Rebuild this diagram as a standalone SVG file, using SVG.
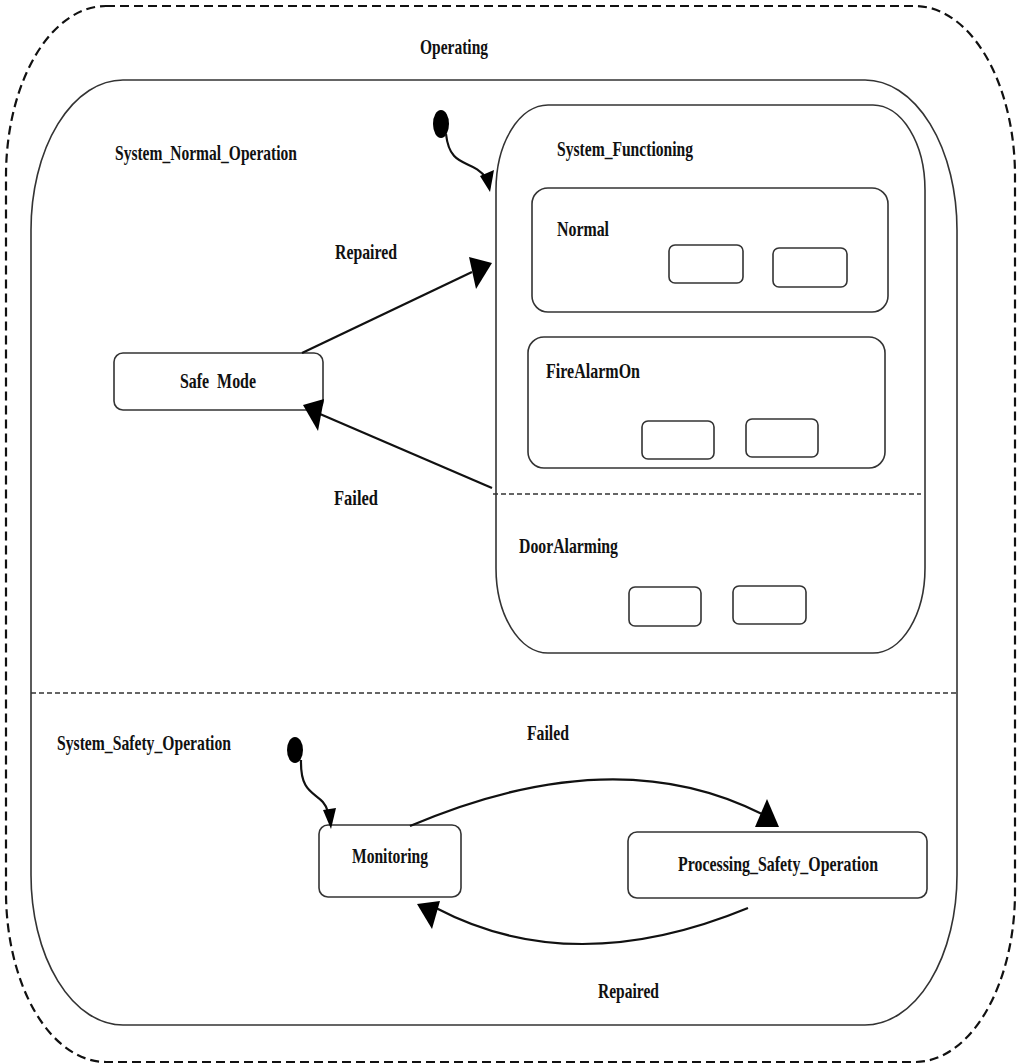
<svg xmlns="http://www.w3.org/2000/svg" width="1017" height="1064" viewBox="0 0 1017 1064">
  <style>
    .lbl { font-family: "Liberation Serif", "Times New Roman", serif; font-weight: bold; font-size: 22px; fill: #111; white-space: pre; }
    .state { fill: #fff; stroke: #333; stroke-width: 1.6; }
    .sub { fill: #fff; stroke: #333; stroke-width: 1.6; }
    .edge { fill: none; stroke: #111; stroke-width: 2.2; }
    .head { fill: #000; stroke: none; }
    .sep { stroke: #333; stroke-width: 1.6; stroke-dasharray: 5 3; fill: none; }
  </style>
  <rect width="1017" height="1064" fill="#fff"/>

  <!-- Operating: outer composite state -->
  <g id="operating">
    <rect x="6" y="6" width="1009" height="1056" rx="100" ry="170" fill="none" stroke="#111" stroke-width="2.2" stroke-dasharray="9 5"/>
    <text class="lbl" x="420" y="54" textLength="68" lengthAdjust="spacingAndGlyphs">Operating</text>
  </g>

  <!-- Orthogonal region container -->
  <g id="regions">
    <rect class="state" x="31" y="80" width="926" height="945" rx="92" ry="150"/>
    <line class="sep" x1="31" y1="693" x2="957" y2="693"/>
  </g>

  <g id="system_normal_operation">
    <text class="lbl" x="115" y="160" textLength="182" lengthAdjust="spacingAndGlyphs">System_Normal_Operation</text>
  </g>

  <g id="system_functioning">
    <rect class="state" x="496" y="105" width="429" height="548" rx="52" ry="85"/>
    <line class="sep" x1="493" y1="494" x2="921" y2="494"/>
    <text class="lbl" x="557" y="156" textLength="136" lengthAdjust="spacingAndGlyphs">System_Functioning</text>
  </g>

  <g id="normal">
    <rect class="state" x="532" y="188" width="356" height="124" rx="16" ry="16"/>
    <text class="lbl" x="557" y="236" textLength="52" lengthAdjust="spacingAndGlyphs">Normal</text>
    <rect class="sub" x="669" y="245" width="74" height="38" rx="6"/>
    <rect class="sub" x="773" y="248" width="74" height="39" rx="6"/>
  </g>

  <g id="fire_alarm_on">
    <rect class="state" x="528" y="337" width="357" height="131" rx="16" ry="16"/>
    <text class="lbl" x="546" y="378" textLength="94" lengthAdjust="spacingAndGlyphs">FireAlarmOn</text>
    <rect class="sub" x="642" y="421" width="72" height="38" rx="6"/>
    <rect class="sub" x="746" y="419" width="72" height="38" rx="6"/>
  </g>

  <g id="door_alarming">
    <text class="lbl" x="519" y="553" textLength="99" lengthAdjust="spacingAndGlyphs">DoorAlarming</text>
    <rect class="sub" x="629" y="587" width="72" height="39" rx="6"/>
    <rect class="sub" x="733" y="586" width="73" height="38" rx="6"/>
  </g>

  <g id="safe_mode">
    <rect class="state" x="114" y="353" width="209" height="57" rx="9"/>
    <text class="lbl" x="180" y="388" textLength="76" lengthAdjust="spacingAndGlyphs">Safe  Mode</text>
  </g>

  <g id="system_safety_operation">
    <text class="lbl" x="57" y="750" textLength="174" lengthAdjust="spacingAndGlyphs">System_Safety_Operation</text>
  </g>

  <g id="monitoring">
    <rect class="state" x="319" y="825" width="142" height="72" rx="9"/>
    <text class="lbl" x="352" y="863" textLength="76" lengthAdjust="spacingAndGlyphs">Monitoring</text>
  </g>

  <g id="processing_safety_operation">
    <rect class="state" x="628" y="832" width="299" height="66" rx="9"/>
    <text class="lbl" x="678" y="871" textLength="200" lengthAdjust="spacingAndGlyphs">Processing_Safety_Operation</text>
  </g>

  <g id="initial_top">
    <ellipse cx="441" cy="124" rx="8" ry="14" fill="#000"/>
  </g>
  <g id="initial_bottom">
    <ellipse cx="295" cy="750" rx="8" ry="13" fill="#000"/>
  </g>

  <!-- Transitions -->
  <g id="connectors">
    <path class="edge" d="M446,134 C450,170 472,158 486,178"/>
    <polygon class="head" points="490,192 480,176 494,170"/>

    <path class="edge" d="M302,353 L472,272"/>
    <polygon class="head" points="492,263 469,257 476,289"/>

    <path class="edge" d="M492,488 L320,414"/>
    <polygon class="head" points="303,405 324,399 318,431"/>

    <path class="edge" d="M301,760 C300,800 322,790 328,812"/>
    <polygon class="head" points="323,810 336,808 331,829"/>

    <path class="edge" d="M410,826 Q614,739 762,814"/>
    <polygon class="head" points="767,799 755,827 779,827"/>

    <path class="edge" d="M748,908 Q573,980 436,908"/>
    <polygon class="head" points="417,904 440,901 432,929"/>
  </g>

  <g id="labels">
    <text class="lbl" x="335" y="259" textLength="62" lengthAdjust="spacingAndGlyphs">Repaired</text>
    <text class="lbl" x="334" y="505" textLength="44" lengthAdjust="spacingAndGlyphs">Failed</text>
    <text class="lbl" x="527" y="740" textLength="42" lengthAdjust="spacingAndGlyphs">Failed</text>
    <text class="lbl" x="598" y="998" textLength="61" lengthAdjust="spacingAndGlyphs">Repaired</text>
  </g>
</svg>
